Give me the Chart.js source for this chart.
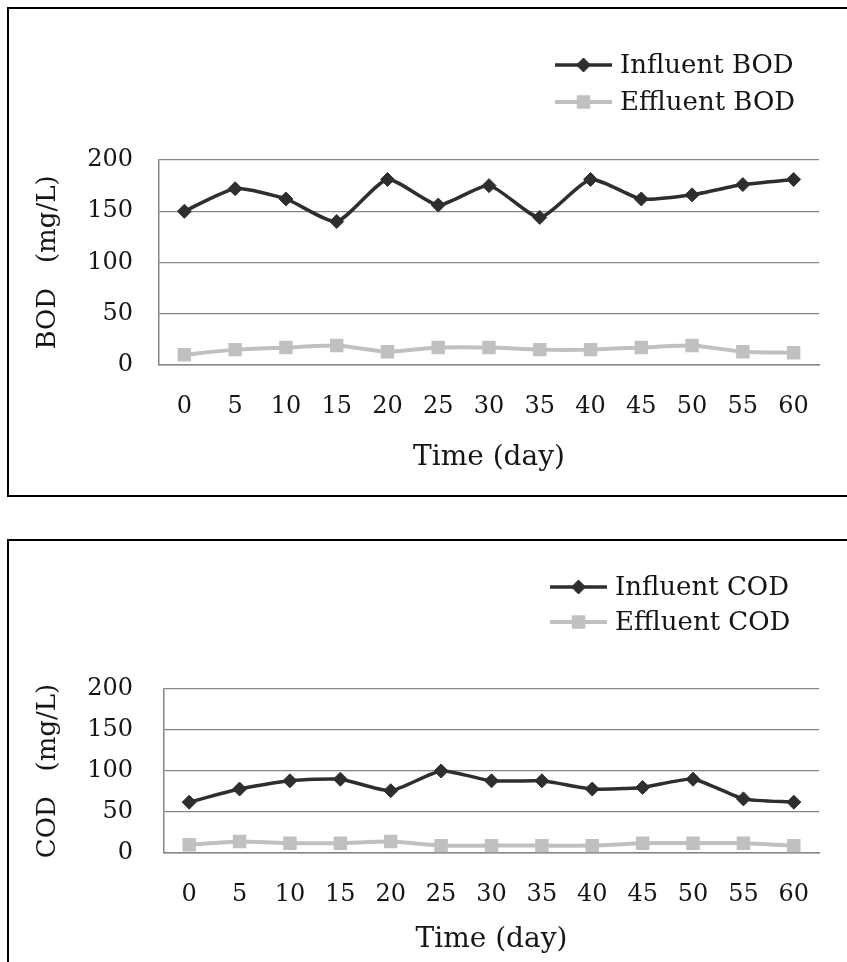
<!DOCTYPE html>
<html>
<head>
<meta charset="utf-8">
<script src="https://cdn.jsdelivr.net/npm/chart.js@4.4.1/dist/chart.umd.min.js"></script>
<style>
  html, body { margin: 0; padding: 0; background: #ffffff; overflow: hidden; }
  body { width: 847px; height: 962px; position: relative; }
  .panel {
    position: absolute; left: 7px; width: 900px;
    border-left: 2px solid #000; border-top: 2px solid #000; border-bottom: 2px solid #000;
    box-sizing: border-box;
  }
  #panelBOD { top: 7px; height: 490px; }
  #panelCOD { top: 539px; height: 500px; }
  canvas { position: absolute; left: 0; top: 0; }
</style>
</head>
<body>
<div class="panel" id="panelBOD"><canvas id="chartBOD" width="838" height="486"></canvas></div>
<div class="panel" id="panelCOD"><canvas id="chartCOD" width="838" height="421"></canvas></div>
<script>
// Sampling days
const days = ['0', '5', '10', '15', '20', '25', '30', '35', '40', '45', '50', '55', '60'];

// BOD (mg/L)
const influentBOD = [150, 172, 162, 140, 181, 156, 175, 144, 181, 162, 166, 176, 181];
const effluentBOD = [10, 15, 17, 19, 13, 17, 17, 15, 15, 17, 19, 13, 12];

// COD (mg/L)
const influentCOD = [62, 78, 88, 90, 76, 100, 88, 88, 78, 80, 90, 66, 62];
const effluentCOD = [10, 14, 12, 12, 14, 9, 9, 9, 9, 12, 12, 12, 9];

// Y axis ticks
const yTicks = [0, 50, 100, 150, 200];

const SERIF = '"DejaVu Serif", "Liberation Serif", serif';
const DARK = '#2e2e2e';
const LIGHT = '#c0c0c0';
const GRID = '#868686';
const TEXT = '#151515';

function makeDatasets(inName, inData, outName, outData) {
  return [
    {
      label: inName, data: inData,
      borderColor: DARK, backgroundColor: DARK, borderWidth: 3.5,
      pointStyle: 'rectRot', pointRadius: 7, pointBorderWidth: 1,
      pointBackgroundColor: DARK, pointBorderColor: DARK,
      tension: 0.2, order: 1
    },
    {
      label: outName, data: outData,
      borderColor: LIGHT, backgroundColor: LIGHT, borderWidth: 4,
      pointStyle: 'rect', pointRadius: 9.5, pointBorderWidth: 0,
      pointBackgroundColor: LIGHT, pointBorderColor: LIGHT,
      tension: 0.2, order: 2
    }
  ];
}

// Vertical legend drawn at a fixed spot in the top-right corner
function cornerLegend(o) {
  return {
    id: 'cornerLegend',
    afterDraw(chart) {
      const ctx = chart.ctx;
      ctx.save();
      chart.data.datasets.forEach((ds, i) => {
        const y = o.y + i * o.rowGap;
        ctx.strokeStyle = ds.borderColor;
        ctx.lineWidth = ds.borderWidth;
        ctx.beginPath();
        ctx.moveTo(o.x, y);
        ctx.lineTo(o.x + o.lineLen, y);
        ctx.stroke();
        ctx.fillStyle = ds.pointBackgroundColor;
        ctx.strokeStyle = ds.pointBorderColor;
        ctx.lineWidth = ds.pointBorderWidth;
        Chart.helpers.drawPoint(ctx, {
          pointStyle: ds.pointStyle,
          radius: ds.pointRadius,
          borderWidth: ds.pointBorderWidth,
          rotation: 0
        }, o.x + o.lineLen / 2, y);
        ctx.font = '26px ' + SERIF;
        ctx.fillStyle = TEXT;
        ctx.textBaseline = 'middle';
        ctx.textAlign = 'left';
        ctx.fillText(ds.label, o.x + o.lineLen + o.textGap, y + 1);
      });
      ctx.restore();
    }
  };
}

function buildChart(canvasId, cfg) {
  return new Chart(document.getElementById(canvasId), {
    type: 'line',
    data: { labels: days, datasets: cfg.datasets },
    plugins: [cornerLegend(cfg.legend)],
    options: {
      responsive: false,
      animation: false,
      devicePixelRatio: 1,
      layout: { padding: cfg.padding },
      plugins: { legend: { display: false }, tooltip: { enabled: false } },
      scales: {
        x: {
          type: 'category',
          offset: true,
          grid: { display: false, drawTicks: false },
          border: { display: true, color: GRID, width: 1.5 },
          ticks: { color: TEXT, font: { family: SERIF, size: 24 }, padding: cfg.xTickPad, maxRotation: 0, autoSkip: false },
          title: { display: true, text: 'Time (day)', color: TEXT, font: { family: SERIF, size: 28 }, padding: 0 },
          afterFit(scale) { scale.height = cfg.xHeight; }
        },
        y: {
          min: 0, max: 200,
          afterBuildTicks(scale) { scale.ticks = yTicks.map(v => ({ value: v })); },
          grid: { color: GRID, lineWidth: 1.2, drawTicks: false },
          border: { display: true, color: GRID, width: 1.5 },
          ticks: { color: TEXT, font: { family: SERIF, size: 24 }, padding: cfg.yTickPad, autoSkip: false },
          title: { display: true, text: cfg.yTitle, color: TEXT, font: { family: SERIF, size: 26 }, padding: { top: 4, bottom: 0 } },
          afterFit(scale) { scale.width = cfg.yWidth; }
        }
      }
    }
  });
}

buildChart('chartBOD', {
  datasets: makeDatasets('Influent BOD', influentBOD, 'Effluent BOD', effluentBOD),
  yTitle: 'BOD   (mg/L)',
  padding: { left: 20, right: 28, top: 151, bottom: 20 },
  yWidth: 130, xHeight: 110, yTickPad: 26, xTickPad: 27,
  legend: { x: 546, y: 56, rowGap: 37, lineLen: 57, textGap: 8 }
});

buildChart('chartCOD', {
  datasets: makeDatasets('Influent COD', influentCOD, 'Effluent COD', effluentCOD),
  yTitle: 'COD   (mg/L)',
  padding: { left: 20, right: 28, top: 148, bottom: 5 },
  yWidth: 135, xHeight: 104, yTickPad: 31, xTickPad: 27,
  legend: { x: 541, y: 46, rowGap: 35, lineLen: 57, textGap: 8 }
});
</script>
</body>
</html>
